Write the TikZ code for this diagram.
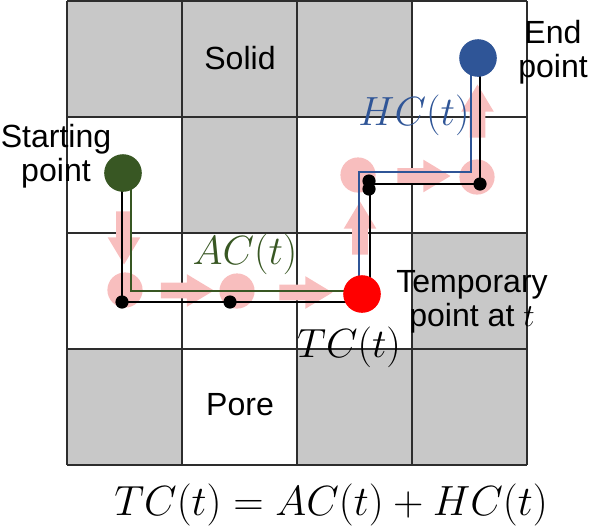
\RequirePackage{fix-cm}
\documentclass[tikz,border=0pt]{standalone}
\usepackage{fontspec}
\setmainfont{Liberation Sans}
\usetikzlibrary{calc,shapes.arrows}
\definecolor{PoreGray}{RGB}{200,200,200}
\definecolor{PoreLine}{RGB}{45,45,45}
\definecolor{PorePink}{RGB}{248,190,190}
\definecolor{PoreGreen}{RGB}{56,87,35}
\definecolor{PoreBlue}{RGB}{47,85,151}
\definecolor{PoreRed}{RGB}{255,0,0}
\tikzset{
  pore/solidcell/.style={fill=PoreGray},
  pore/gridline/.style={draw=PoreLine, line width=1pt},
  pore/hop/.style={circle, fill=PorePink, minimum size=0.88cm, inner sep=0pt},
  pore/move/.style={
    single arrow,
    fill=PorePink,
    inner xsep=0pt,
    inner ysep=0.1875cm,
    minimum height=1.325cm,
    minimum width=0.8cm,
    single arrow head extend=0.2125cm,
    single arrow tip angle=62
  },
  pore/point/.style={circle, minimum size=0.94cm, inner sep=0pt},
  pore/dot/.style={circle, fill=black, minimum size=0.33cm, inner sep=0pt},
  pore/tcline/.style={draw=black, line width=1.4pt},
  pore/acline/.style={draw=PoreGreen, line width=1pt},
  pore/hcline/.style={draw=PoreBlue, line width=1pt},
  pore/label/.style={font=\fontsize{22.8}{24.5}\selectfont, align=center, inner sep=0pt},
  pore/math/.style={font=\fontsize{29}{31}\selectfont, inner sep=0pt}
}

\begin{document}
\begin{tikzpicture}[x=0.025cm,y=-0.025cm]
  \useasboundingbox (0,0) rectangle (589,528);
  % solid cells and grid
  \foreach \col/\row in {0/0,1/0,2/0,1/1,3/2,0/3,2/3,3/3}
    \fill[pore/solidcell] ({67+115*\col},{1+116*\row}) rectangle ++(115,116);
  \foreach \i in {0,...,4} {
    \draw[pore/gridline] ({67+115*\i},1) -- ({67+115*\i},465);
    \draw[pore/gridline] (67,{1+116*\i}) -- (527,{1+116*\i});
  }
  \coordinate (startc) at (123,173);
  \coordinate (tempc) at (362,294);
  \coordinate (endc) at (478,58);
  % pink moves
  \node[pore/hop] (hop1) at (125,290) {};
  \node[pore/hop] (hop2) at (237,291) {};
  \node[pore/hop] (hop3) at (358,175) {};
  \node[pore/hop] (hop4) at (477,177) {};
  \node[pore/move,rotate=-90] (mv1) at ($(startc)!0.5!(hop1)$) {};
  \node[pore/move] (mv2) at ($(hop1)!0.5!(hop2)$) {};
  \node[pore/move] (mv3) at ($(hop2)!0.5!(tempc)$) {};
  \node[pore/move,rotate=90] (mv4) at ($(tempc)!0.5!(hop3)$) {};
  \node[pore/move] (mv5) at ($(hop3)!0.5!(hop4)$) {};
  \node[pore/move,rotate=90] (mv6) at ($(hop4)!0.5!(endc)$) {};
  % costs
  \coordinate (bk1) at (122,302);
  \coordinate (bk2) at (370,184);
  \coordinate (bk3) at (480,184);
  \coordinate (ac1) at (131,291);
  \coordinate (hc1) at (359,172);
  \coordinate (hc2) at (471,172);
  \draw[pore/tcline] (startc -| bk1) -- (bk1) -- (bk1 -| bk2) -- (bk2) -- (bk3) -- (bk3 |- endc);
  \draw[pore/acline] (startc -| ac1) -- (ac1) -- (ac1 -| tempc);
  \draw[pore/hcline] (tempc -| hc1) -- (hc1) -- (hc2) -- (hc2 |- endc);
  \node[pore/dot] (dot1) at (bk1) {};
  \node[pore/dot] (dot2) at (230,302) {};
  \node[pore/dot] (dot3) at (369,181) {};
  \node[pore/dot] (dot4) at (369,189) {};
  \node[pore/dot] (dot5) at (bk3) {};
  % points
  \node[pore/point,fill=PoreGreen] (start) at (startc) {};
  \node[pore/point,fill=PoreRed] (temp) at (tempc) {};
  \node[pore/point,fill=PoreBlue] (finish) at (endc) {};
  % texts
  \node[pore/label] (solid) at (240,58) {Solid};
  \node[pore/label] (pore) at (240,405) {Pore};
  \node[pore/label] (startlbl) at (56,156) {Starting\\point};
  \node[pore/label] (endlbl) at (553,52) {End\\point};
  \node[pore/label] (templbl) at (472,302) {Temporary\\point at $t$};
  \node[pore/math,text=PoreGreen] (aclbl) at (245,254) {$AC(t)$};
  \node[pore/math,text=PoreBlue] (hclbl) at (414,115) {$HC(t)$};
  \node[pore/math] (tclbl) at (349,347) {$TC(t)$};
  \node[pore/math,font=\fontsize{30}{32}\selectfont] (eqlbl) at (331,505) {$TC(t)=AC(t)+HC(t)$};
\end{tikzpicture}
\end{document}
